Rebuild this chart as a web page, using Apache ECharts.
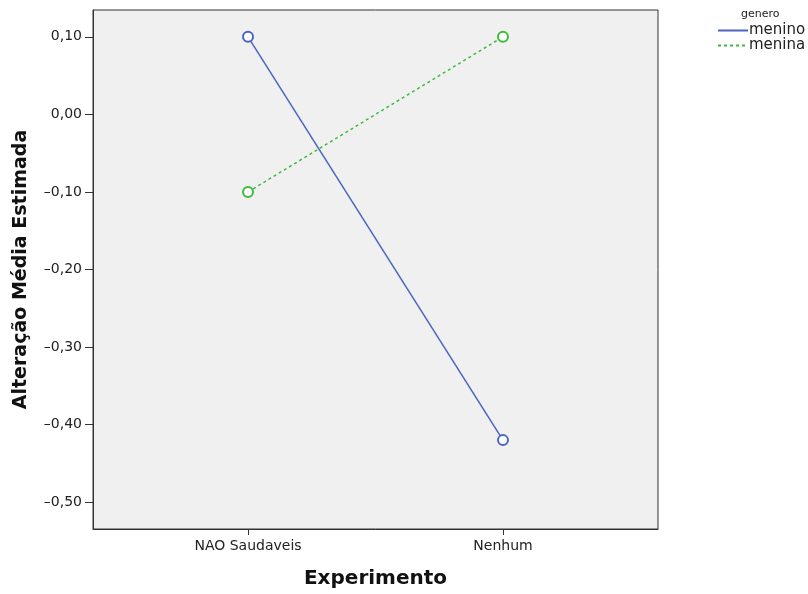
<!DOCTYPE html>
<html><head><meta charset="utf-8">
<script src="https://cdn.jsdelivr.net/npm/echarts@6/dist/echarts.min.js"></script>
<style>html,body{margin:0;padding:0;background:#fff}#c{width:808px;height:594px}</style>
</head><body><div id="c"></div>
<script>
var categories = ['NAO Saudaveis', 'Nenhum'];
var menino = [0.10, -0.42];
var menina = [-0.10, 0.10];
var yTicks = [-0.5, -0.4, -0.3, -0.2, -0.1, 0.0, 0.1];
var seriesNames = ['menino', 'menina'];
var legendTitle = 'genero';
var xTitle = 'Experimento';
var yTitle = 'Alteração Média Estimada';

var FONT = 'DejaVu Sans';
var chart = echarts.init(document.getElementById('c'), null, {renderer: 'canvas'});
function fmtY(v) {
  var s = Math.abs(v).toFixed(2).replace('.', ',');
  return (v < -1e-9 ? '\u2013' : '') + s;
}
var xIdx = categories.map(function (c, i) { return i; });
chart.setOption({
  animation: false,
  backgroundColor: '#ffffff',
  title: {text: legendTitle, left: 741, top: 9, padding: 0,
    textStyle: {fontFamily: FONT, fontSize: 11, fontWeight: 'normal', color: '#222'}},
  legend: {
    orient: 'vertical', left: 717, top: 23, padding: 0, itemWidth: 30, itemHeight: 14, itemGap: 0,
    data: seriesNames,
    itemStyle: {opacity: 0},
    textStyle: {fontFamily: FONT, fontSize: 15, lineHeight: 14, color: '#222', padding: [0,0,0,-4]}
  },
  grid: {left: 93, right: 150, top: 10, bottom: 64, show: true,
    backgroundColor: '#f0f0f0', borderColor: '#333', borderWidth: 1},
  xAxis: {
    type: 'value', min: -0.608, max: 1.608,
    name: xTitle, nameLocation: 'middle', nameGap: 40,
    nameTextStyle: {fontFamily: FONT, fontSize: 20, fontWeight: 'bold', color: '#111'},
    axisLine: {show: true, onZero: false, lineStyle: {color: '#333'}},
    axisTick: {show: true, length: 6, lineStyle: {color: '#333'}, customValues: xIdx},
    axisLabel: {customValues: xIdx, margin: 10, fontFamily: FONT, fontSize: 14, color: '#222',
      formatter: function (v) { return categories[Math.round(v)]; }},
    splitLine: {show: false}
  },
  yAxis: {
    type: 'value', min: -0.5346, max: 0.1346,
    name: yTitle, nameLocation: 'middle', nameGap: 62,
    nameTextStyle: {fontFamily: FONT, fontSize: 19, fontWeight: 'bold', color: '#111'},
    axisLine: {show: true, onZero: false, lineStyle: {color: '#333'}},
    axisTick: {show: true, length: 8, lineStyle: {color: '#333'}, customValues: yTicks},
    axisLabel: {customValues: yTicks, margin: 11, fontFamily: FONT, fontSize: 14, color: '#222',
      formatter: fmtY},
    splitLine: {show: false}
  },
  series: [
    {name: seriesNames[0], type: 'line',
      data: menino.map(function (v, i) { return [xIdx[i], v]; }),
      symbol: 'emptyCircle', symbolSize: 10,
      lineStyle: {color: '#4a64c0', width: 1.5},
      itemStyle: {color: '#4a64c0', borderWidth: 1.3}},
    {name: seriesNames[1], type: 'line',
      data: menina.map(function (v, i) { return [xIdx[i], v]; }),
      symbol: 'emptyCircle', symbolSize: 10,
      lineStyle: {color: '#3ebb3e', width: 1.5, type: [3, 3]},
      itemStyle: {color: '#3ebb3e', borderWidth: 1.3}}
  ]
});
</script></body></html>
